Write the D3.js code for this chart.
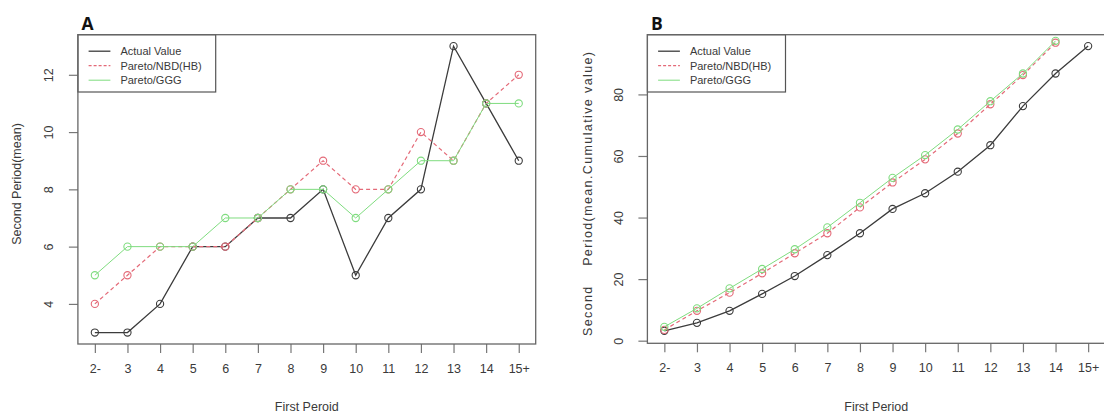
<!DOCTYPE html>
<html>
<head>
<meta charset="utf-8">
<script src="https://cdn.jsdelivr.net/npm/d3@7"></script>
<style>
  body { margin: 0; background: #fff; }
  text { font-family: "Liberation Sans", Arial, sans-serif; fill: #3a3a3a; }
</style>
</head>
<body>
<script>

// categories on the x axis (first period)
const categories = ["2-", "3", "4", "5", "6", "7", "8", "9", "10", "11", "12", "13", "14", "15+"]

// panel A: second period mean
const actualMean = [3, 3, 4, 6, 6, 7, 7, 8, 5, 7, 8, 13, 11, 9]
const nbdMean = [4, 5, 6, 6, 6, 7, 8, 9, 8, 8, 10, 9, 11, 12]
const gggMean = [5, 6, 6, 6, 7, 7, 8, 8, 7, 8, 9, 9, 11, 11]
const ticksA = [4, 6, 8, 10, 12]

// panel B: second period cumulative value (model lines leave the plot after 14)
const actualCum = [3.2, 5.8, 9.7, 15.2, 21, 27.8, 34.9, 42.8, 47.9, 54.9, 63.5, 76.2, 86.8, 95.7]
const nbdCum = [3.5, 9.7, 15.6, 21.9, 28.4, 34.9, 43.3, 51.4, 58.9, 67.3, 76.8, 86.3, 96.8, null]
const gggCum = [4.5, 10.5, 17, 23.3, 29.7, 36.8, 44.8, 52.9, 60.3, 68.6, 77.8, 86.8, 97.4, null]
const ticksB = [0, 20, 40, 60, 80]

const legendLabels = ["Actual Value", "Pareto/NBD(HB)", "Pareto/GGG"]
const seriesStyle = [
    { color: "#3c3c3c", dash: null, width: 1.3 },
    { color: "#e46a78", dash: "4,3", width: 1.2 },
    { color: "#7fdc7f", dash: null, width: 1 }
]

const svg = d3.select("body").append("svg")
    .attr("width", 1104)
    .attr("height", 418)

function panel(opt) {
    const g = svg.append("g")

    // x scale over category index, R style 4% padding
    const xScale = d3.scaleLinear()
        .domain([-0.52, categories.length - 1 + 0.52])
        .range([opt.left, opt.right])

    const yScale = d3.scaleLinear()
        .domain(opt.yDomain)
        .range([opt.bottom, opt.top])

    // clip to plot region
    g.append("clipPath").attr("id", "clip" + opt.id)
        .append("rect")
        .attr("x", opt.left).attr("y", opt.top)
        .attr("width", opt.right - opt.left).attr("height", opt.bottom - opt.top)

    // bottom axis
    const xAxis = g.append("g")
        .attr("transform", "translate(0," + opt.bottom + ")")
        .call(d3.axisBottom(xScale)
            .tickValues(d3.range(categories.length))
            .tickFormat(i => categories[i])
            .tickSize(9)
            .tickPadding(11))
    xAxis.select(".domain").remove()
    xAxis.selectAll("line").attr("stroke", "#777").attr("stroke-width", 1.2)
    xAxis.selectAll("text").attr("font-size", 12.5).attr("fill", "#3a3a3a")
        .style("font-family", "Liberation Sans, Arial, sans-serif")

    // left axis, labels parallel to axis like R
    const yAxis = g.append("g")
        .attr("transform", "translate(" + opt.left + ",0)")
        .call(d3.axisLeft(yScale).tickValues(opt.ticks).tickSize(9))
    yAxis.select(".domain").remove()
    yAxis.selectAll("line").attr("stroke", "#777").attr("stroke-width", 1.2)
    yAxis.selectAll("text")
        .attr("font-size", 12.5).attr("fill", "#3a3a3a")
        .attr("x", null).attr("dy", null)
        .attr("text-anchor", "middle")
        .attr("dominant-baseline", "central")
        .attr("transform", d => "translate(" + (-28.5) + ",0) rotate(-90)")
        .style("font-family", "Liberation Sans, Arial, sans-serif")

    // lines and points
    const plot = g.append("g").attr("clip-path", "url(#clip" + opt.id + ")")
    opt.series.forEach((values, k) => {
        const st = seriesStyle[k]
        const pts = values.map((v, i) => [i, v]).filter(d => d[1] != null)
        const line = d3.line()
            .x(d => xScale(d[0]))
            .y(d => yScale(d[1]))
        plot.append("path")
            .datum(pts)
            .attr("d", line)
            .attr("fill", "none")
            .attr("stroke", st.color)
            .attr("stroke-width", st.width)
            .attr("stroke-dasharray", st.dash)
        plot.selectAll(".pt" + k).data(pts)
            .enter()
            .append("circle")
            .attr("cx", d => xScale(d[0]))
            .attr("cy", d => yScale(d[1]))
            .attr("r", 3.6)
            .attr("fill", "none")
            .attr("stroke", st.color)
            .attr("stroke-width", 1.1)
    })

    // legend, white filled box in top left corner
    const lg = g.append("g")
    lg.append("rect")
        .attr("x", opt.left).attr("y", opt.top)
        .attr("width", opt.legendW).attr("height", 57.3)
        .attr("fill", "#fff").attr("stroke", "#555").attr("stroke-width", 1.2)
    legendLabels.forEach((lab, k) => {
        const st = seriesStyle[k]
        const yy = opt.top + 16.5 + k * 14.5
        lg.append("line")
            .attr("x1", opt.left + 10.7).attr("x2", opt.left + 32.5)
            .attr("y1", yy).attr("y2", yy)
            .attr("stroke", st.color).attr("stroke-width", st.width)
            .attr("stroke-dasharray", st.dash ? "3,2" : null)
        lg.append("text")
            .attr("x", opt.left + 42.5).attr("y", yy)
            .attr("dominant-baseline", "central")
            .attr("font-size", 11)
            .text(lab)
    })

    // plot frame
    g.append("rect")
        .attr("x", opt.left).attr("y", opt.top)
        .attr("width", opt.right - opt.left).attr("height", opt.bottom - opt.top)
        .attr("fill", "none").attr("stroke", "#666").attr("stroke-width", 1.3)

    // axis titles
    g.append("text")
        .attr("x", (opt.left + opt.right) / 2).attr("y", 411)
        .attr("text-anchor", "middle")
        .attr("font-size", 12.5)
        .text(opt.xTitle)
    const yt = g.append("text")
        .attr("transform", "translate(" + opt.yTitleX + "," + opt.yTitleY + ") rotate(-90)")
        .attr("text-anchor", "middle")
        .attr("dominant-baseline", "central")
        .attr("font-size", 12.5)
        .style("white-space", "pre")
        .text(opt.yTitle)
    if (opt.yTitleLen) {
        yt.attr("textLength", opt.yTitleLen).attr("lengthAdjust", "spacing")
    }

    // panel letter
    g.append("text")
        .attr("x", opt.left + 3.5).attr("y", 29.5)
        .attr("font-size", 17.5)
        .attr("font-weight", "bold")
        .style("font-family", "Open Sans, Liberation Sans, sans-serif")
        .style("fill", "#111")
        .text(opt.letter)
}

panel({
    id: "A", letter: "A",
    left: 77.9, right: 535.7, top: 34.7, bottom: 344,
    yDomain: [2.6, 13.4], ticks: ticksA,
    series: [actualMean, nbdMean, gggMean],
    legendW: 137.8,
    xTitle: "First Peroid",
    yTitle: "Second Period(mean)", yTitleX: 17, yTitleY: 184
})

panel({
    id: "B", letter: "B",
    left: 647.4, right: 1105.1, top: 34.7, bottom: 343.3,
    yDomain: [-0.85, 99.4], ticks: ticksB,
    series: [actualCum, nbdCum, gggCum],
    legendW: 138.1,
    xTitle: "First Period",
    yTitle: "Second    Period(mean.Cumulative value)", yTitleX: 587.5, yTitleY: 194,
    yTitleLen: 284
})

</script>
</body>
</html>
